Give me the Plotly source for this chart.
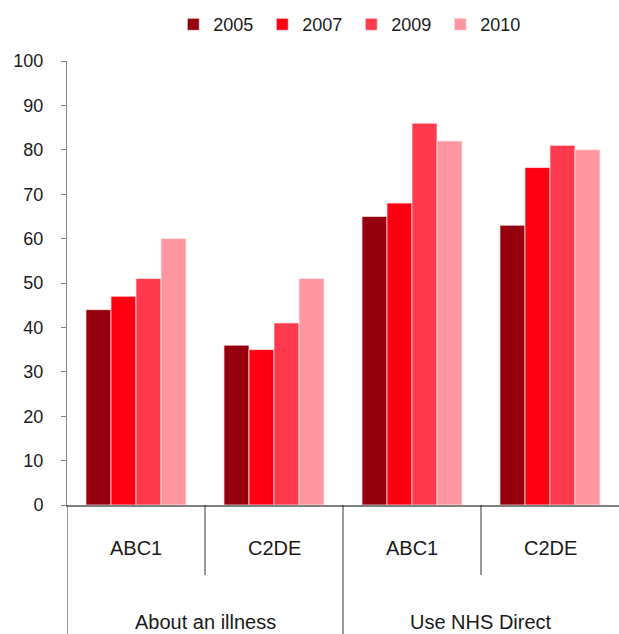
import plotly.graph_objects as go

# Survey results: share of respondents (%) by social grade and year
groups = ["About an illness", "Use NHS Direct"]
grades = ["ABC1", "C2DE"]
categories = ["About an illness|ABC1", "About an illness|C2DE",
              "Use NHS Direct|ABC1", "Use NHS Direct|C2DE"]
years = ["2005", "2007", "2009", "2010"]

values_2005 = [44, 36, 65, 63]
values_2007 = [47, 35, 68, 76]
values_2009 = [51, 41, 86, 81]
values_2010 = [60, 51, 82, 80]

series = [values_2005, values_2007, values_2009, values_2010]
colors = ["#95000F", "#FF0013", "#FF3A4C", "#FF96A0"]

FONT = "Liberation Sans, Arial, sans-serif"
TEXT = "#1a1a1a"
FS_NUM = 18
FS_LBL = 20

fig = go.Figure()
for year, vals, col in zip(years, series, colors):
    fig.add_trace(go.Bar(
        x=categories, y=vals, name=year,
        marker=dict(color=col, line=dict(color="rgba(255,235,238,0.9)", width=0.8)),
    ))

fig.update_layout(
    width=619, height=634,
    margin=dict(l=67, r=0, t=61, b=129),
    paper_bgcolor="white", plot_bgcolor="white",
    barmode="group", bargap=0.275, bargroupgap=0,
    font=dict(family=FONT, size=FS_NUM, color=TEXT),
    showlegend=True,
    legend=dict(orientation="h", x=0.515, xanchor="center", y=1.082, yanchor="middle",
                font=dict(size=FS_NUM, color=TEXT), entrywidth=44,
                itemclick=False, itemdoubleclick=False),
)

fig.update_yaxes(
    range=[0, 100], dtick=10, tick0=0,
    showgrid=False, zeroline=False,
    showline=True, linecolor="#858585", linewidth=1,
    ticks="outside", ticklen=5, tickcolor="#858585", tickwidth=1,
    ticklabelstandoff=14,
    tickfont=dict(size=FS_NUM, color=TEXT),
)
fig.update_xaxes(
    type="category", range=[-0.5, 3.5],
    showticklabels=False, showgrid=False, zeroline=False,
    showline=True, linecolor="#808080", linewidth=1.5, ticks="",
)

# Two-level category labels drawn under the axis
plot_h = 634 - 61 - 129
def py(px_below):
    return -px_below / plot_h

for i, cat in enumerate(categories):
    grade = cat.split("|")[1]
    fig.add_annotation(x=i, y=py(43), xref="x", yref="paper", text=grade,
                       showarrow=False, font=dict(size=FS_LBL, color=TEXT),
                       xanchor="center", yanchor="middle")
for j, g in enumerate(groups):
    fig.add_annotation(x=2 * j + 0.5, y=py(117), xref="x", yref="paper", text=g,
                       showarrow=False, font=dict(size=FS_LBL, color=TEXT),
                       xanchor="center", yanchor="middle")

# Dividers: short ones between grades, long ones between groups
for xb in [0.5, 2.5]:
    fig.add_shape(type="line", xref="x", yref="paper", x0=xb, x1=xb,
                  y0=0, y1=py(70), line=dict(color="#333333", width=1))
for xb in [-0.5, 1.5]:
    fig.add_shape(type="line", xref="x", yref="paper", x0=xb, x1=xb,
                  y0=0, y1=py(135), line=dict(color="#333333", width=1))

fig.write_html("out.html")
